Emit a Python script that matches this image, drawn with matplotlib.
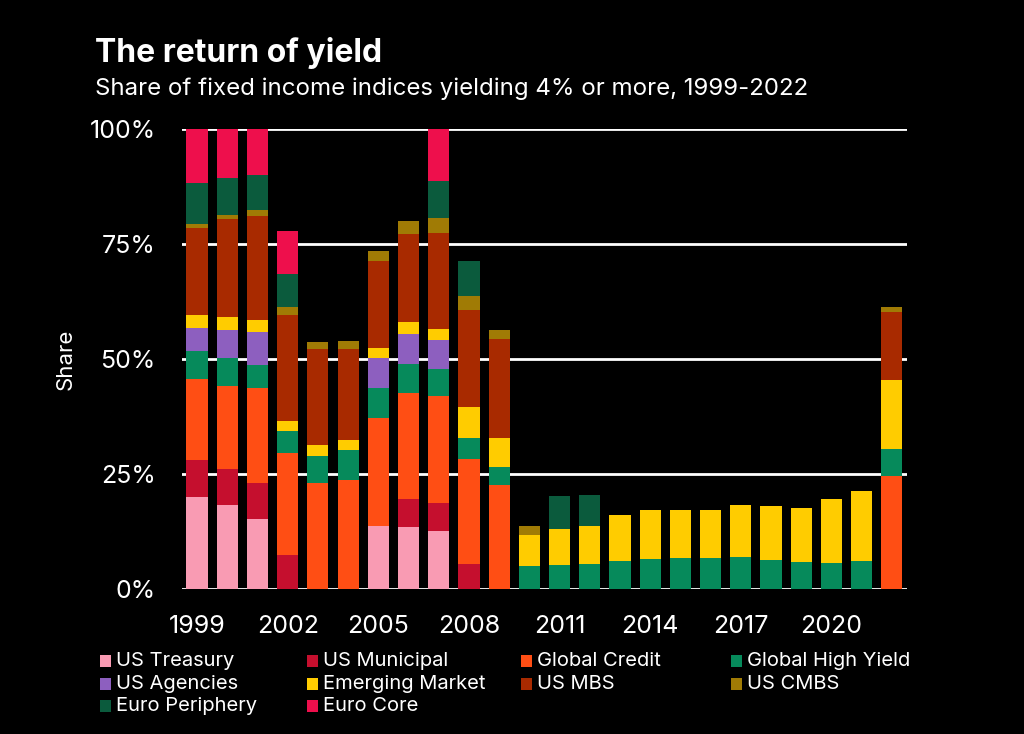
import matplotlib
matplotlib.use("Agg")
import matplotlib.pyplot as plt
from matplotlib.patches import Rectangle
import numpy as np

years = list(range(1999, 2023))

# share of indices (percentage points), stacked bottom -> top
us_treasury   = [20.0, 18.2, 15.3, 0, 0, 0, 13.6, 13.4, 12.7, 0, 0, 0, 0, 0, 0, 0, 0, 0, 0, 0, 0, 0, 0, 0]
us_municipal  = [8.0, 7.8, 7.8, 7.3, 0, 0, 0, 6.2, 6.1, 5.5, 0, 0, 0, 0, 0, 0, 0, 0, 0, 0, 0, 0, 0, 0]
global_credit = [17.7, 18.2, 20.5, 22.3, 23.1, 23.8, 23.6, 23.1, 23.1, 22.8, 22.6, 0, 0, 0, 0, 0, 0, 0, 0, 0, 0, 0, 0, 24.6]
global_hy     = [6.0, 6.0, 5.0, 4.8, 5.9, 6.4, 6.6, 6.3, 6.0, 4.5, 4.0, 4.9, 5.2, 5.4, 6.2, 6.5, 6.7, 6.7, 6.9, 6.4, 5.9, 5.7, 6.2, 5.8]
us_agencies   = [5.0, 6.1, 7.3, 0, 0, 0, 6.4, 6.4, 6.3, 0, 0, 0, 0, 0, 0, 0, 0, 0, 0, 0, 0, 0, 0, 0]
emerging      = [2.8, 2.8, 2.5, 2.2, 2.2, 2.2, 2.1, 2.6, 2.3, 6.7, 6.2, 6.9, 7.8, 8.3, 10.0, 10.6, 10.5, 10.4, 11.3, 11.6, 11.8, 13.9, 15.1, 15.0]
us_mbs        = [18.9, 21.3, 22.6, 23.0, 20.9, 19.8, 19.1, 19.1, 20.8, 21.2, 21.5, 0, 0, 0, 0, 0, 0, 0, 0, 0, 0, 0, 0, 14.8]
us_cmbs       = [0.9, 1.0, 1.4, 1.6, 1.5, 1.8, 2.1, 2.8, 3.4, 2.9, 2.0, 1.8, 0, 0, 0, 0, 0, 0, 0, 0, 0, 0, 0, 1.1]
euro_periph   = [8.9, 8.0, 7.5, 7.2, 0, 0, 0, 0, 8.0, 7.6, 0, 0, 7.2, 6.8, 0, 0, 0, 0, 0, 0, 0, 0, 0, 0]
euro_core     = [11.8, 10.6, 10.1, 9.5, 0, 0, 0, 0, 11.3, 0, 0, 0, 0, 0, 0, 0, 0, 0, 0, 0, 0, 0, 0, 0]

series = [
    ("US Treasury", us_treasury, "#F99BB3"),
    ("US Municipal", us_municipal, "#C50F2E"),
    ("Global Credit", global_credit, "#FF4E14"),
    ("Global High Yield", global_hy, "#068A5B"),
    ("US Agencies", us_agencies, "#8D5FBF"),
    ("Emerging Market", emerging, "#FFCC00"),
    ("US MBS", us_mbs, "#A82A00"),
    ("US CMBS", us_cmbs, "#A07B05"),
    ("Euro Periphery", euro_periph, "#0B5B3D"),
    ("Euro Core", euro_core, "#EE0F4C"),
]

plt.rcParams['font.family'] = ['Inter', 'DejaVu Sans']

fig = plt.figure(figsize=(10.24, 7.34), dpi=100, facecolor='black')
ax = fig.add_axes([0.1777, 0.1975, 0.708, 0.6268], facecolor='black')

x = np.arange(len(years))
bottom = np.zeros(len(years))
for name, vals, col in series:
    vals = np.array(vals, dtype=float)
    ax.bar(x, vals, bottom=bottom, width=0.7, color=col, zorder=3, linewidth=0)
    bottom += vals

ax.set_xlim(-0.5, len(years) - 0.5)
ax.set_ylim(0, 100)
ax.set_yticks([0, 25, 50, 75, 100])
ax.set_yticklabels(["0%", "25%", "50%", "75%", "100%"])
ax.grid(axis='y', color='white', linewidth=2, zorder=1)
ax.set_xticks(x[::3])
ax.set_xticklabels([str(y) for y in years[::3]])
ax.tick_params(axis='both', length=0, colors='white', labelsize=18)
ax.tick_params(axis='y', pad=19)
ax.tick_params(axis='x', pad=19)
for s in ax.spines.values():
    s.set_visible(False)
ax.set_ylabel("Share", color='white', fontsize=16, labelpad=10)

fig.text(0.093, 0.916, "The return of yield", color='white', fontsize=23,
         fontweight='bold', va='baseline', ha='left')
fig.text(0.093, 0.871, "Share of fixed income indices yielding 4% or more, 1999-2022",
         color='white', fontsize=17.3, va='baseline', ha='left')

# legend laid out in 4 fixed columns
col_x = [100, 307, 521, 731]
row_y = [661, 684, 706]
for i, (name, vals, col) in enumerate(series):
    r, c = divmod(i, 4)
    px, py = col_x[c], row_y[r]
    fig.add_artist(Rectangle((px / 1024, 1 - (py + 6) / 734), 11 / 1024, 12 / 734,
                             transform=fig.transFigure, facecolor=col, edgecolor='none'))
    fig.text((px + 16) / 1024, 1 - py / 734, name, color='white', fontsize=14.5,
             va='center', ha='left')

fig.savefig("out.png", dpi=100, facecolor='black')
